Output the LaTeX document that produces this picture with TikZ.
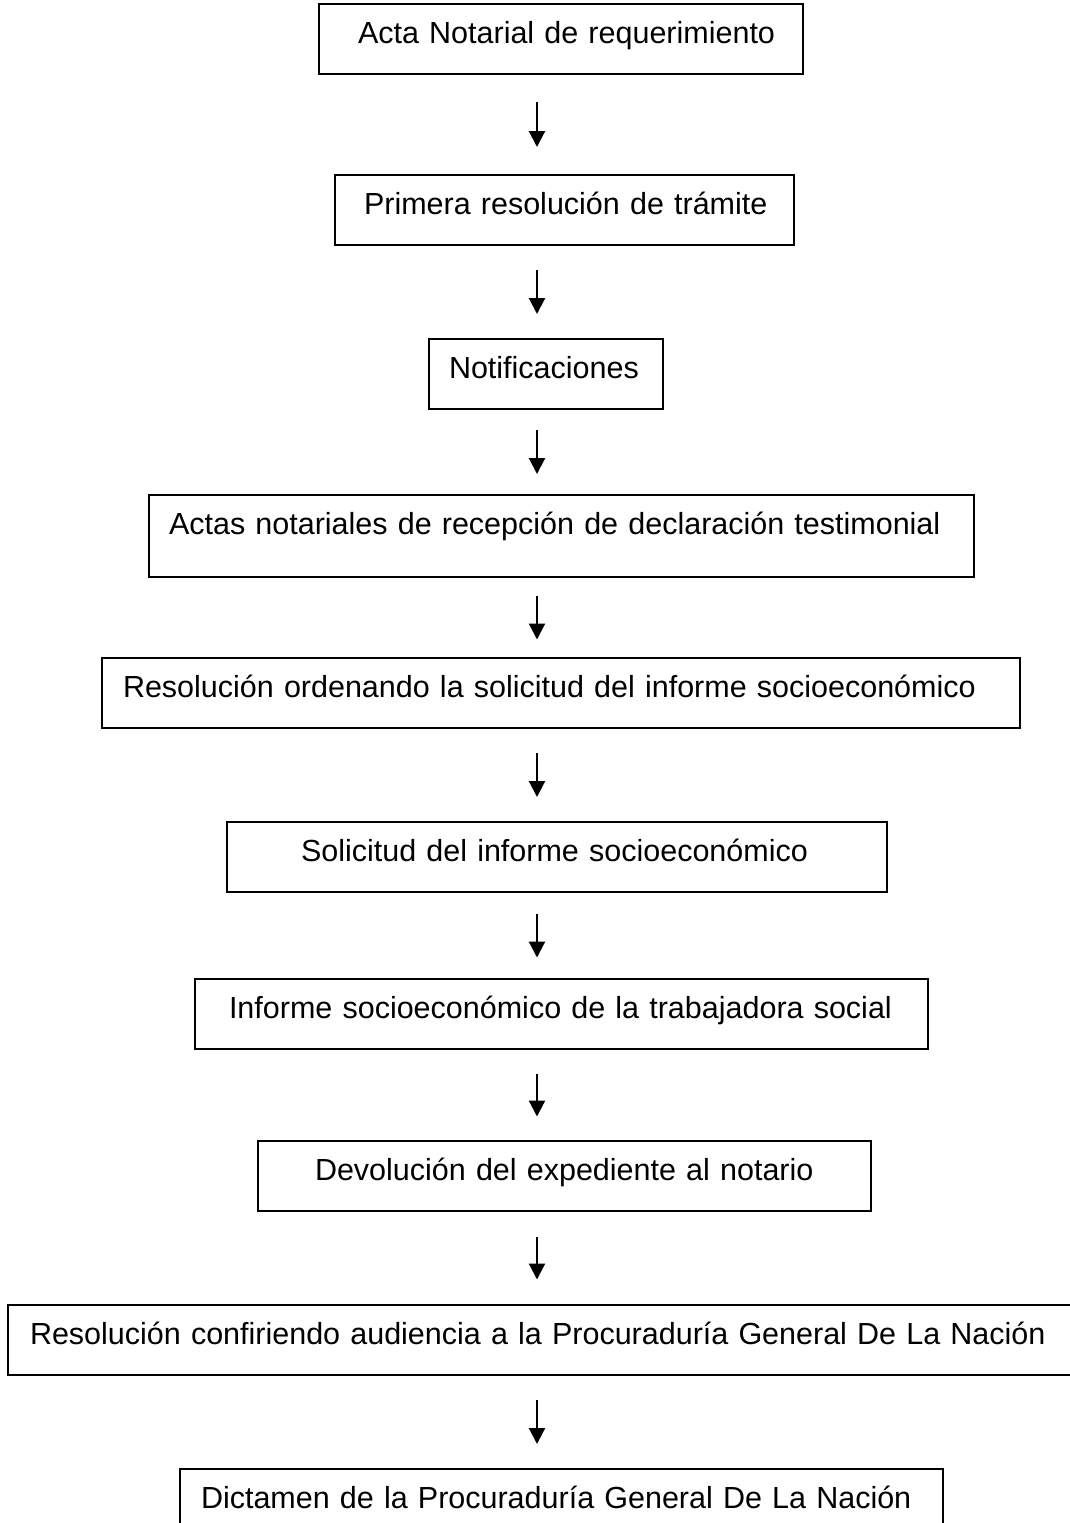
\documentclass[tikz,border=0pt]{standalone}
\usepackage{fontspec}
\setmainfont{Liberation Sans}
\usetikzlibrary{arrows.meta}

\tikzset{
  caja/.style={draw, line width=2pt, anchor=north west, inner sep=0pt, align=left,
    text height=39pt, text depth=31pt, font=\fontsize{30.5}{36}\selectfont},
  flecha/.style={-{Triangle[length=16pt,width=16pt]}, line width=2.2pt,
    shorten <=#1, shorten >=#1}
}

\begin{document}
\begin{tikzpicture}[x=1pt,y=-1pt]
\useasboundingbox (0,0) rectangle (1070,1523);
\coordinate (eje) at (537,0);

\node[caja, text width=484pt] (acta) at (318,3) {\hspace*{39pt}Acta Notarial de requerimiento};
\node[caja, text width=459pt] (primera) at (334,174) {\hspace*{29pt}Primera resolución de trámite};
\node[caja, text width=234pt] (notif) at (428,338) {\hspace*{20pt}Notificaciones};
\node[caja, text width=825pt, text depth=43pt] (actas) at (148,494) {\hspace*{20pt}Actas notariales de recepción de declaración testimonial};
\node[caja, text width=918pt] (ordena) at (101,657) {\hspace*{21pt}Resolución ordenando la solicitud del informe socioeconómico};
\node[caja, text width=660pt] (solicitud) at (226,821) {\hspace*{74pt}Solicitud del informe socioeconómico};
\node[caja, text width=733pt] (informe) at (194,978) {\hspace*{34pt}Informe socioeconómico de la trabajadora social};
\node[caja, text width=613pt] (devolucion) at (257,1140) {\hspace*{57pt}Devolución del expediente al notario};
\node[caja, text width=1100pt] (audiencia) at (7,1304) {\hspace*{22pt}Resolución confiriendo audiencia a la Procuraduría General De La Nación};
\node[caja, text width=763pt] (dictamen) at (179,1468) {\hspace*{21pt}Dictamen de la Procuraduría General De La Nación};

% flechas
\draw[flecha=27pt] (acta.south -| eje) -- (primera.north -| eje);
\draw[flecha=24pt] (primera.south -| eje) -- (notif.north -| eje);
\draw[flecha=20pt] (notif.south -| eje) -- (actas.north -| eje);
\draw[flecha=17.5pt] (actas.south -| eje) -- (ordena.north -| eje);
\draw[flecha=24pt] (ordena.south -| eje) -- (solicitud.north -| eje);
\draw[flecha=20.5pt] (solicitud.south -| eje) -- (informe.north -| eje);
\draw[flecha=23.5pt] (informe.south -| eje) -- (devolucion.north -| eje);
\draw[flecha=24.5pt] (devolucion.south -| eje) -- (audiencia.north -| eje);
\draw[flecha=24pt] (audiencia.south -| eje) -- (dictamen.north -| eje);
\end{tikzpicture}
\end{document}
